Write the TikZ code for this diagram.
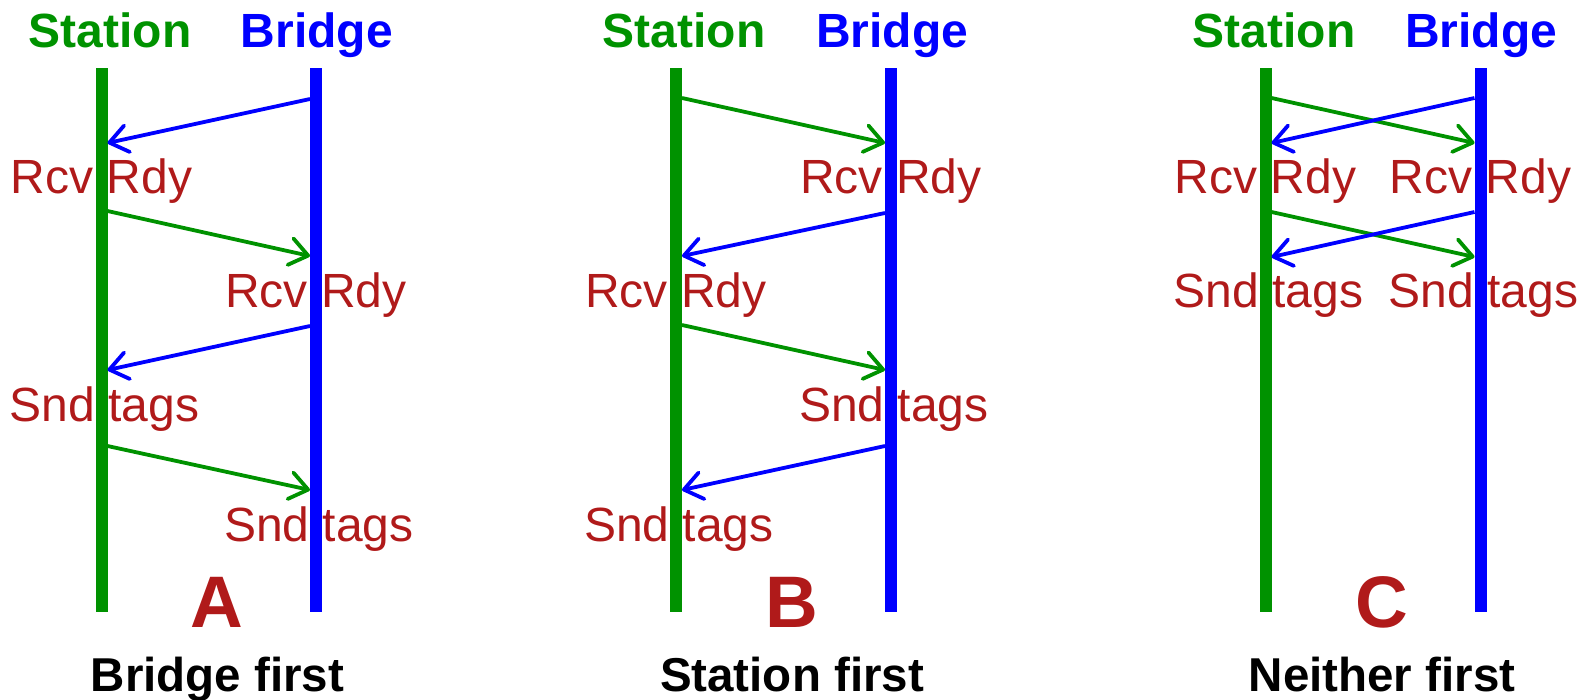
\documentclass[tikz,border=0pt]{standalone}
\usepackage{fontspec}
\setmainfont{Liberation Sans}
\usetikzlibrary{arrows.meta}
\definecolor{stgreen}{RGB}{0,146,0}
\definecolor{brblue}{RGB}{0,0,255}
\definecolor{lbred}{RGB}{176,26,26}
\begin{document}
\begin{tikzpicture}[x=1pt,y=-1pt,
  life/.style={line width=12pt},
  msg/.style={line width=3.8pt,-{Straight Barb[length=18pt,width=27pt,round]}},
  lbl/.style={text=lbred,font=\fontsize{48}{50}\selectfont,anchor=base,inner sep=0pt},
  head/.style={font=\fontsize{48}{50}\selectfont\bfseries,anchor=base,inner sep=0pt},
  letter/.style={text=lbred,font=\fontsize{73}{76}\selectfont\bfseries,anchor=base,inner sep=0pt},
  caption/.style={font=\fontsize{47.5}{50}\selectfont\bfseries,anchor=base,inner sep=0pt}]
\useasboundingbox (0,0) rectangle (1584,699);

% ---------- headers ----------
\node[head,text=stgreen] (aSh) at (110,47.7) {Station};
\node[head,text=brblue]  (aBh) at (317,47.7) {Bridge};
\node[head,text=stgreen] (bSh) at (684,47.7) {Station};
\node[head,text=brblue]  (bBh) at (892,47.7) {Bridge};
\node[head,text=stgreen] (cSh) at (1274,47.7) {Station};
\node[head,text=brblue]  (cBh) at (1481,47.7) {Bridge};

% ---------- labels ----------
\node[lbl] (aL1) at (101.5,193) {Rcv Rdy};
\node[lbl] (aL2) at (316,307) {Rcv Rdy};
\node[lbl] (aL3) at (104.5,421) {Snd tags};
\node[lbl] (aL4) at (319,541) {Snd tags};

\node[lbl] (bL1) at (891,193) {Rcv Rdy};
\node[lbl] (bL2) at (676,307) {Rcv Rdy};
\node[lbl] (bL3) at (894,421) {Snd tags};
\node[lbl] (bL4) at (679,541) {Snd tags};

\node[lbl] (cL1) at (1265.5,193) {Rcv Rdy};
\node[lbl] (cL2) at (1480.5,193) {Rcv Rdy};
\node[lbl] (cL3) at (1268.5,307) {Snd tags};
\node[lbl] (cL4) at (1483.5,307) {Snd tags};

% ---------- lifelines ----------
\coordinate (aStop) at (101.5,68);  \coordinate (aSbot) at (101.5,612);
\coordinate (aBtop) at (316,68);    \coordinate (aBbot) at (316,612);
\coordinate (bStop) at (676,68);    \coordinate (bSbot) at (676,612);
\coordinate (bBtop) at (891,68);    \coordinate (bBbot) at (891,612);
\coordinate (cStop) at (1265.5,68); \coordinate (cSbot) at (1265.5,612);
\coordinate (cBtop) at (1480.5,68); \coordinate (cBbot) at (1480.5,612);
\draw[life,stgreen] (aStop) -- (aSbot);
\draw[life,brblue]  (aBtop) -- (aBbot);
\draw[life,stgreen] (bStop) -- (bSbot);
\draw[life,brblue]  (bBtop) -- (bBbot);
\draw[life,stgreen] (cStop) -- (cSbot);
\draw[life,brblue]  (cBtop) -- (cBbot);

% ---------- panel A messages ----------
\coordinate (aB1) at (310,99);    \coordinate (aS1) at (107.5,143);
\coordinate (aS2) at (107.5,211); \coordinate (aB2) at (310,256);
\coordinate (aB3) at (310,326);   \coordinate (aS3) at (107.5,370);
\coordinate (aS4) at (107.5,446); \coordinate (aB4) at (310,490);
\draw[msg,brblue]  (aB1) -- (aS1);
\draw[msg,stgreen] (aS2) -- (aB2);
\draw[msg,brblue]  (aB3) -- (aS3);
\draw[msg,stgreen] (aS4) -- (aB4);

% ---------- panel B messages ----------
\coordinate (bS1) at (682,98);  \coordinate (bB1) at (885,143);
\coordinate (bB2) at (885,213); \coordinate (bS2) at (682,256);
\coordinate (bS3) at (682,325); \coordinate (bB3) at (885,370);
\coordinate (bB4) at (885,446); \coordinate (bS4) at (682,490);
\draw[msg,stgreen] (bS1) -- (bB1);
\draw[msg,brblue]  (bB2) -- (bS2);
\draw[msg,stgreen] (bS3) -- (bB3);
\draw[msg,brblue]  (bB4) -- (bS4);

% ---------- panel C messages ----------
\coordinate (cS1) at (1271.5,98);  \coordinate (cB1) at (1474.5,143);
\coordinate (cB2) at (1474.5,98);  \coordinate (cS2) at (1271.5,143);
\coordinate (cS3) at (1271.5,212); \coordinate (cB3) at (1474.5,257);
\coordinate (cB4) at (1474.5,212); \coordinate (cS4) at (1271.5,257);
\draw[msg,stgreen] (cS1) -- (cB1);
\draw[msg,brblue]  (cB2) -- (cS2);
\draw[msg,stgreen] (cS3) -- (cB3);
\draw[msg,brblue]  (cB4) -- (cS4);

% ---------- bottom ----------
\node[letter] (aLet) at (217,627) {A};
\node[letter] (bLet) at (792,627) {B};
\node[letter] (cLet) at (1381.5,627) {C};
\node[caption] (aCap) at (217.5,691) {Bridge first};
\node[caption] (bCap) at (792,691) {Station first};
\node[caption] (cCap) at (1382,691) {Neither first};
\end{tikzpicture}
\end{document}
